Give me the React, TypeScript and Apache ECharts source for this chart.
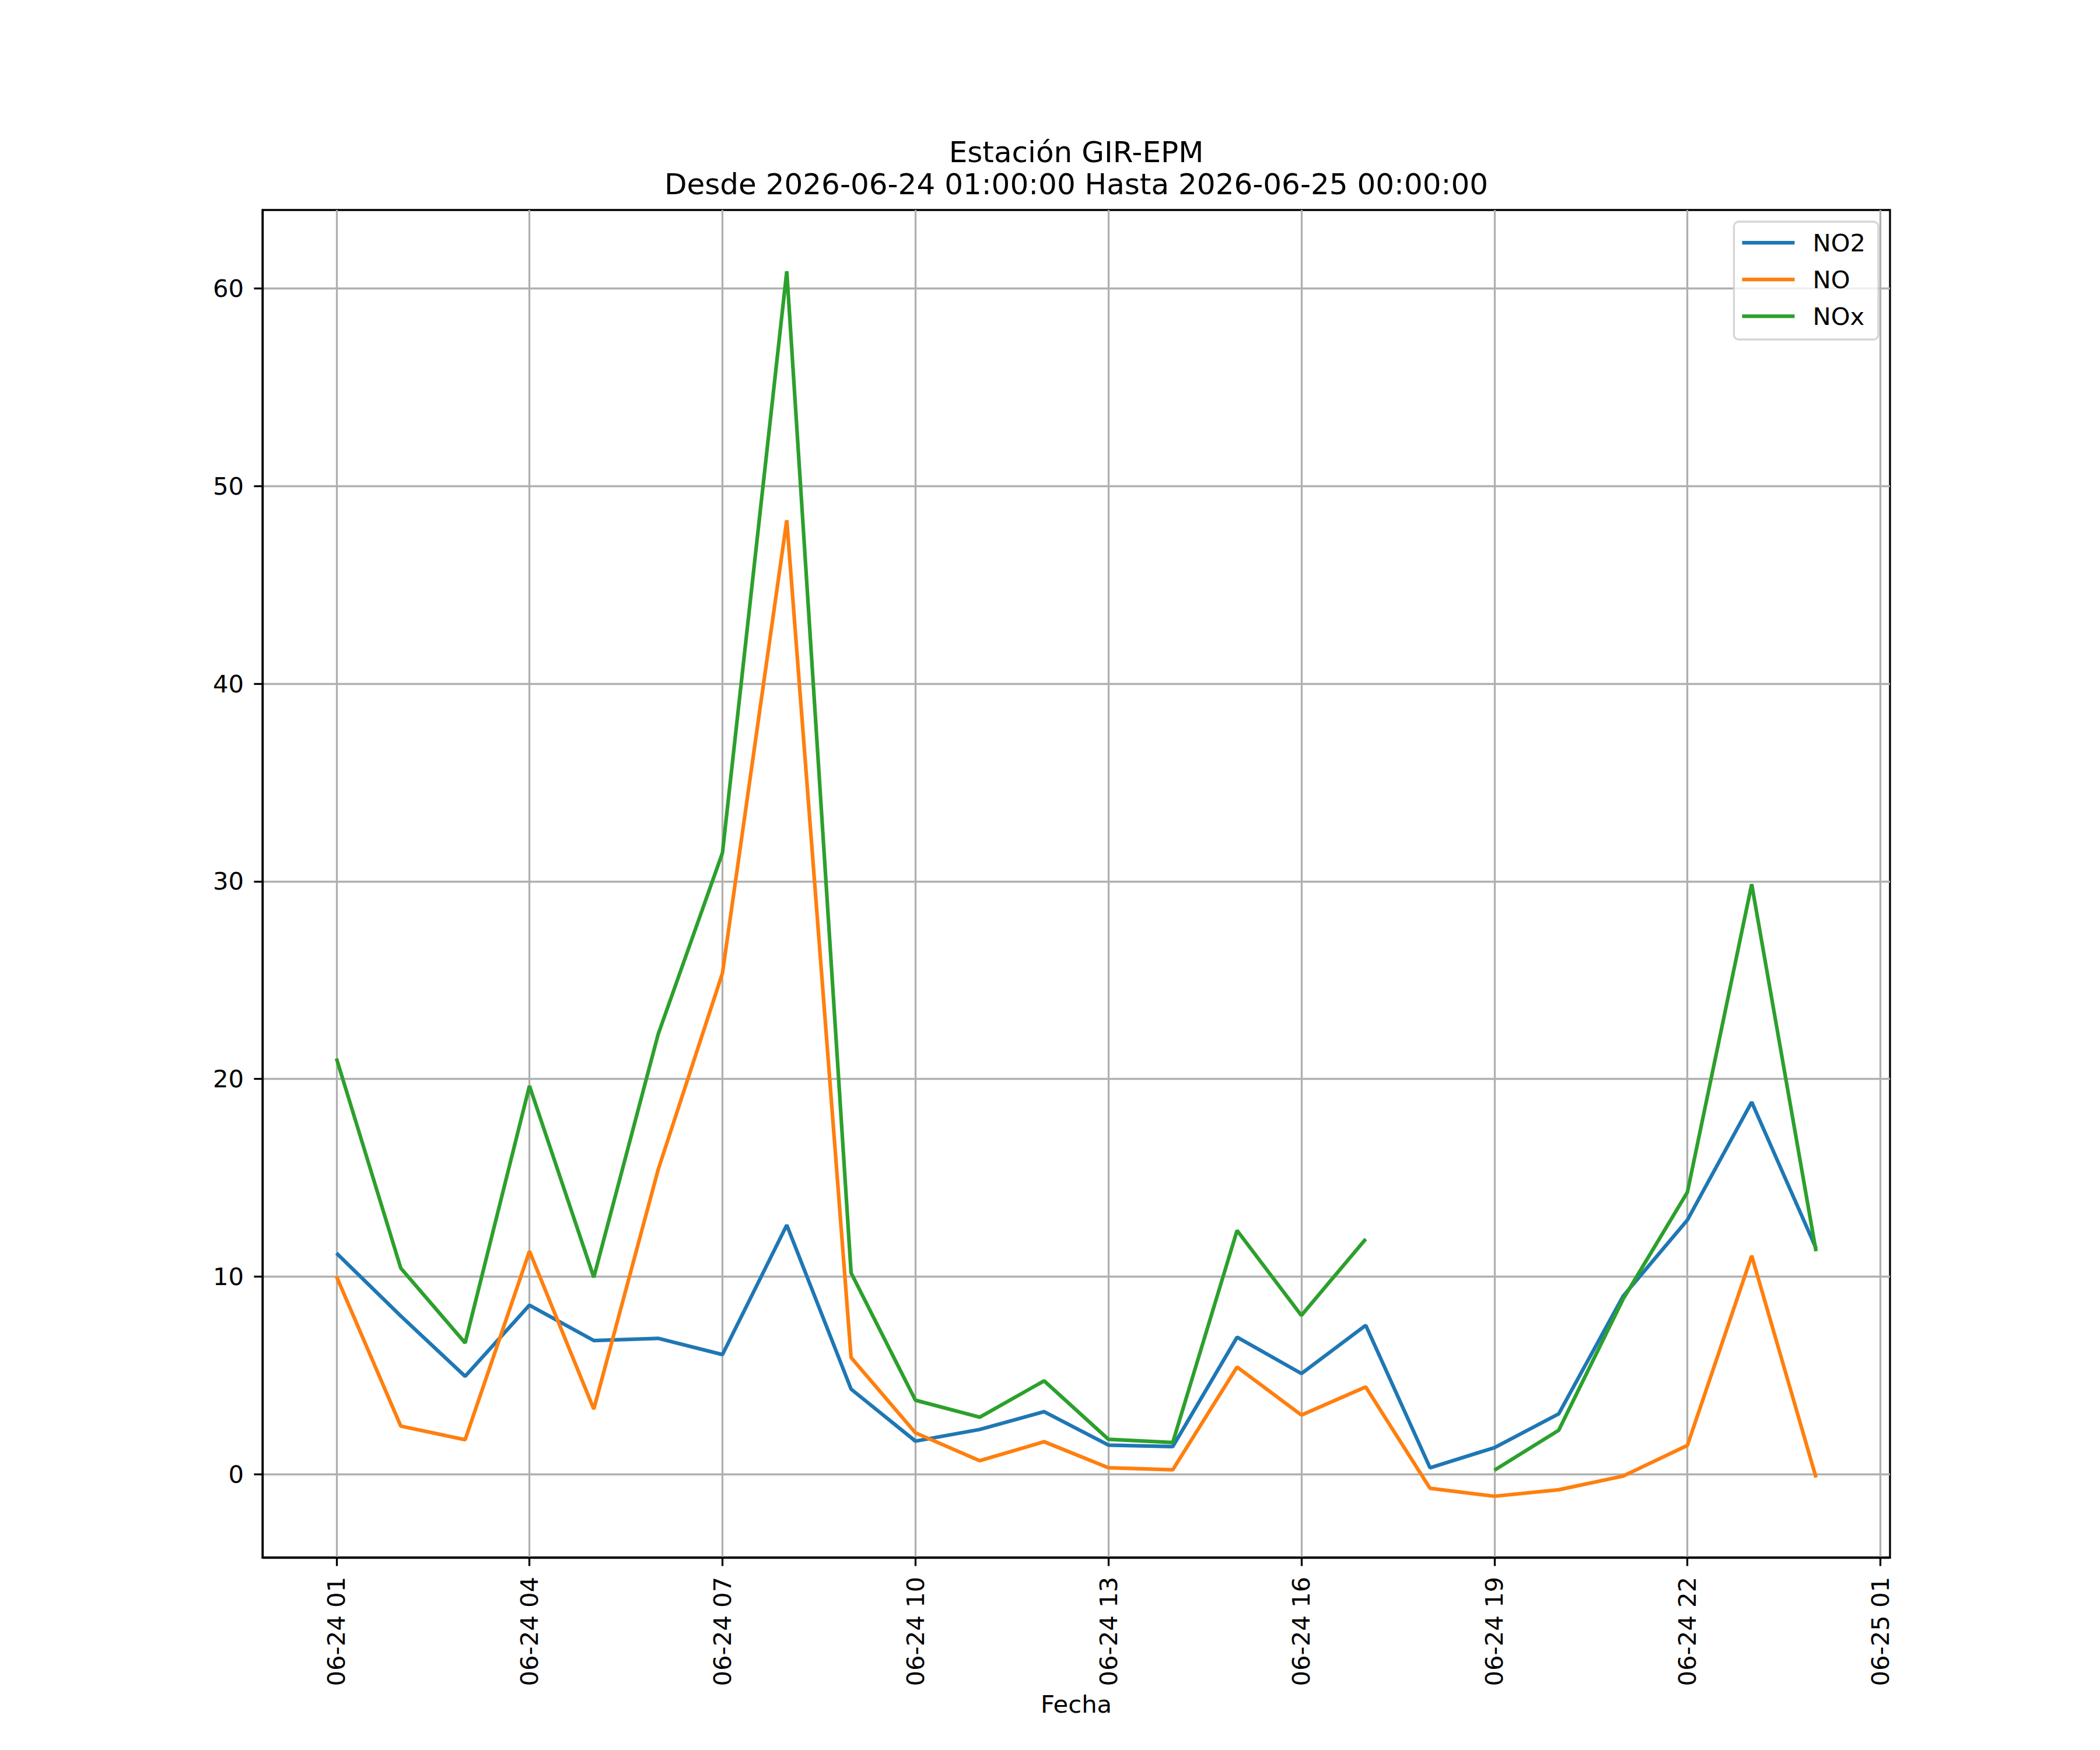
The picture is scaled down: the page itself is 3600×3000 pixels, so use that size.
import React, { useEffect, useRef } from 'react'
import * as echarts from 'echarts'

// hourly timestamps of the station
const times = [
  '2026-06-24 01:00:00', '2026-06-24 02:00:00', '2026-06-24 03:00:00', '2026-06-24 04:00:00',
  '2026-06-24 05:00:00', '2026-06-24 06:00:00', '2026-06-24 07:00:00', '2026-06-24 08:00:00',
  '2026-06-24 09:00:00', '2026-06-24 10:00:00', '2026-06-24 11:00:00', '2026-06-24 12:00:00',
  '2026-06-24 13:00:00', '2026-06-24 14:00:00', '2026-06-24 15:00:00', '2026-06-24 16:00:00',
  '2026-06-24 17:00:00', '2026-06-24 18:00:00', '2026-06-24 19:00:00', '2026-06-24 20:00:00',
  '2026-06-24 21:00:00', '2026-06-24 22:00:00', '2026-06-24 23:00:00', '2026-06-25 00:00:00'
]

const no2 = [
  11.18, 8.0, 4.95, 8.55, 6.76, 6.87, 6.05, 12.6, 4.3, 1.67, 2.26, 3.16,
  1.47, 1.39, 6.93, 5.09, 7.53, 0.32, 1.34, 3.05, 9.0, 12.86, 18.83, 11.43
]
const no = [
  10.0, 2.43, 1.74, 11.28, 3.29, 15.4, 25.35, 48.27, 5.9, 2.09, 0.68, 1.64,
  0.32, 0.22, 5.42, 2.99, 4.41, -0.72, -1.12, -0.79, -0.1, 1.45, 11.05, -0.17
]
const nox = [
  21.03, 10.42, 6.64, 19.65, 9.96, 22.25, 31.44, 60.87, 10.18, 3.74, 2.88, 4.72,
  1.76, 1.6, 12.33, 8.03, 11.9, null, 0.2, 2.22, 8.85, 14.26, 29.85, 11.28
]

const xTicks = [
  '2026-06-24 01:00:00', '2026-06-24 04:00:00', '2026-06-24 07:00:00', '2026-06-24 10:00:00',
  '2026-06-24 13:00:00', '2026-06-24 16:00:00', '2026-06-24 19:00:00', '2026-06-24 22:00:00',
  '2026-06-25 01:00:00'
]
const yTicks = [0, 10, 20, 30, 40, 50, 60]

const FONT = 'DejaVu Sans'
const toMs = (s: string) => new Date(s.replace(' ', 'T')).getTime()
const pad = (n: number) => String(n).padStart(2, '0')

const App: React.FC = () => {
  const chartRef = useRef<HTMLDivElement>(null)

  useEffect(() => {
    if (!chartRef.current) return
    document.body.style.margin = '0'

    const chart = echarts.init(chartRef.current, null, { renderer: 'svg' })

    // márgenes tipo matplotlib (5%)
    const t0 = toMs(times[0])
    const t1 = toMs(times[times.length - 1])
    const xPad = (t1 - t0) * 0.05
    const allVals = [...no2, ...no, ...nox].filter((v): v is number => v !== null)
    const vMin = Math.min(...allVals)
    const vMax = Math.max(...allVals)
    const yPad = (vMax - vMin) * 0.05

    const mk = (arr: (number | null)[]) => times.map((t, i) => [toMs(t), arr[i]])

    const lw = 6.25
    const thin = 3.3

    const option = {
      animation: false,
      backgroundColor: '#fff',
      textStyle: { fontFamily: FONT },
      title: [
        {
          text: 'Estación GIR-EPM',
          left: 1845,
          top: 236,
          textAlign: 'center',
          padding: 0,
          textStyle: { fontSize: 50, fontWeight: 'normal', color: '#000', fontFamily: FONT }
        },
        {
          text: 'Desde 2026-06-24 01:00:00 Hasta 2026-06-25 00:00:00',
          left: 1845,
          top: 291,
          textAlign: 'center',
          padding: 0,
          textStyle: { fontSize: 50, fontWeight: 'normal', color: '#000', fontFamily: FONT }
        }
      ],
      legend: {
        orient: 'vertical',
        right: 380,
        top: 380,
        padding: [12, 22, 16, 14],
        icon: 'rect',
        itemWidth: 90,
        itemHeight: 6.25,
        itemGap: 15,
        backgroundColor: 'rgba(255,255,255,0.8)',
        borderColor: 'rgba(204,204,204,0.8)',
        borderWidth: thin,
        borderRadius: 8,
        textStyle: {
          fontSize: 41.7,
          color: '#000',
          fontFamily: FONT,
          lineHeight: 48,
          padding: [0, 0, 0, 26]
        },
        data: ['NO2', 'NO', 'NOx']
      },
      grid: {
        left: 450,
        right: 360,
        top: 360,
        bottom: 330,
        show: true,
        borderColor: '#000',
        borderWidth: thin,
        backgroundColor: 'transparent',
        containLabel: false,
        outerBoundsMode: 'none'
      },
      xAxis: {
        type: 'value',
        min: t0 - xPad,
        max: t1 + xPad,
        name: 'Fecha',
        nameLocation: 'middle',
        nameGap: 230,
        nameTextStyle: { fontSize: 41.7, color: '#000', fontFamily: FONT },
        axisLine: { show: true, onZero: false, lineStyle: { color: '#000', width: thin } },
        axisTick: {
          show: true,
          length: 14.6,
          lineStyle: { color: '#000', width: thin },
          customValues: xTicks.map(toMs)
        },
        axisLabel: {
          rotate: 90,
          margin: 33,
          fontSize: 41.7,
          color: '#000',
          fontFamily: FONT,
          hideOverlap: false,
          customValues: xTicks.map(toMs),
          formatter: (v: number) => {
            const d = new Date(v)
            return `${pad(d.getMonth() + 1)}-${pad(d.getDate())} ${pad(d.getHours())}`
          }
        },
        splitLine: { show: true, lineStyle: { color: '#b0b0b0', width: thin } }
      },
      yAxis: {
        type: 'value',
        min: vMin - yPad,
        max: vMax + yPad,
        axisLine: { show: true, onZero: false, lineStyle: { color: '#000', width: thin } },
        axisTick: {
          show: true,
          length: 14.6,
          lineStyle: { color: '#000', width: thin },
          customValues: yTicks
        },
        axisLabel: {
          margin: 32,
          fontSize: 41.7,
          color: '#000',
          fontFamily: FONT,
          customValues: yTicks
        },
        splitLine: { show: true, lineStyle: { color: '#b0b0b0', width: thin } }
      },
      series: [
        {
          name: 'NO2',
          type: 'line',
          symbol: 'none',
          color: '#1f77b4',
          lineStyle: { width: lw, color: '#1f77b4' },
          data: mk(no2)
        },
        {
          name: 'NO',
          type: 'line',
          symbol: 'none',
          color: '#ff7f0e',
          lineStyle: { width: lw, color: '#ff7f0e' },
          data: mk(no)
        },
        {
          name: 'NOx',
          type: 'line',
          symbol: 'none',
          color: '#2ca02c',
          connectNulls: false,
          lineStyle: { width: lw, color: '#2ca02c' },
          data: mk(nox)
        }
      ]
    }

    chart.setOption(option as any)

    return () => {
      chart.dispose()
    }
  }, [])

  return <div ref={chartRef} style={{ width: 3600, height: 3000 }} />
}

export default App
